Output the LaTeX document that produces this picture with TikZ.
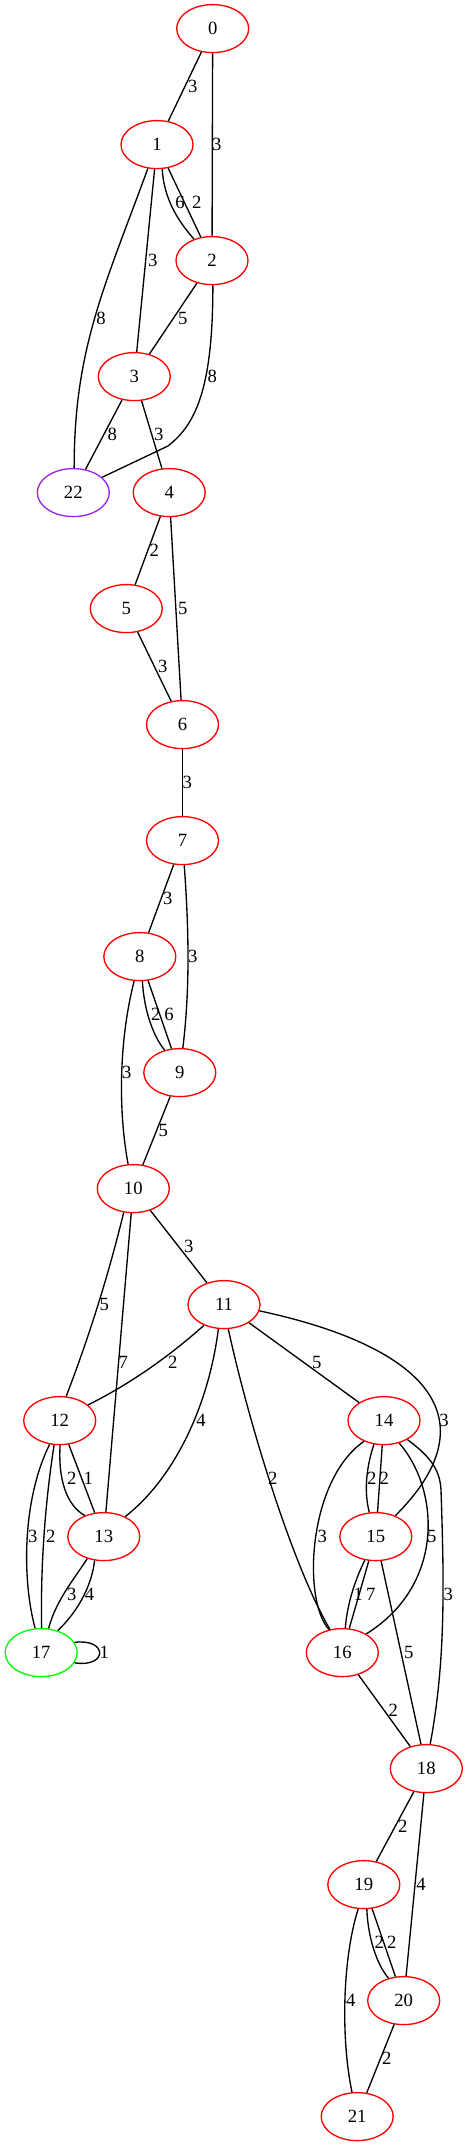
\documentclass[tikz,border=0pt]{standalone}
\usepackage{fontspec}
\setmainfont{Liberation Serif}
\usetikzlibrary{shapes.geometric}
\definecolor{gvred}{RGB}{255,0,0}
\definecolor{gvpurple}{RGB}{160,32,240}
\definecolor{gvgreen}{RGB}{0,255,0}
\begin{document}
\begin{tikzpicture}[x=0.75pt,y=-0.75pt,
  font=\fontsize{14}{16}\selectfont,
  gvnode/.style={ellipse,draw=gvred,line width=1pt,minimum width=54pt,minimum height=36pt,inner sep=0pt},
  gvedge/.style={line width=1pt,black},
  lbl/.style={inner sep=0pt}]
\useasboundingbox (0,0) rectangle (468,2147);
% nodes
\node[gvnode] (n0) at (212.7,28.6) {0};
\node[gvnode] (n1) at (157,144.6) {1};
\node[gvnode] (n2) at (212,260.6) {2};
\node[gvnode] (n3) at (134.3,376.6) {3};
\node[gvnode,draw=gvpurple] (n22) at (73.3,492.6) {22};
\node[gvnode] (n4) at (169.2,492.6) {4};
\node[gvnode] (n5) at (126.3,608.6) {5};
\node[gvnode] (n6) at (182.5,724.6) {6};
\node[gvnode] (n7) at (182.5,840.6) {7};
\node[gvnode] (n8) at (139.8,956.6) {8};
\node[gvnode] (n9) at (179.8,1072.6) {9};
\node[gvnode] (n10) at (133.3,1188.6) {10};
\node[gvnode] (n11) at (224,1304.6) {11};
\node[gvnode] (n12) at (59.7,1420.6) {12};
\node[gvnode] (n14) at (384,1420.6) {14};
\node[gvnode] (n13) at (103.8,1536.6) {13};
\node[gvnode] (n15) at (375.8,1536.6) {15};
\node[gvnode,draw=gvgreen] (n17) at (41.2,1652.6) {17};
\node[gvnode] (n16) at (342.3,1652.6) {16};
\node[gvnode] (n18) at (426.3,1768.6) {18};
\node[gvnode] (n19) at (363.8,1884.6) {19};
\node[gvnode] (n20) at (403.7,2000.6) {20};
\node[gvnode] (n21) at (357.2,2116.6) {21};
% edges
\draw[gvedge] (n0) -- (n1);
\draw[gvedge] (n0) -- (n2);
\draw[gvedge] (n1.-78) .. controls (164,200) and (179,222) .. (n2.130);
\draw[gvedge] (n1) -- (n2);
\draw[gvedge] (n1) -- (n3);
\draw[gvedge] (n1.-111) .. controls (105.6,284.4) and (74,347.8) .. (n22.88);
\draw[gvedge] (n2) -- (n3);
\draw[gvedge] (n2.-88) .. controls (213,390) and (195,425) .. (168,446) -- (n22.28);
\draw[gvedge] (n3) -- (n22);
\draw[gvedge] (n3) -- (n4);
\draw[gvedge] (n4) -- (n5);
\draw[gvedge] (n4) -- (n6);
\draw[gvedge] (n5) -- (n6);
\draw[gvedge] (n6) -- (n7);
\draw[gvedge] (n7) -- (n8);
\draw[gvedge] (n7.-86) .. controls (189,930) and (190,990) .. (n9.83);
\draw[gvedge] (n8.-84) .. controls (144,1010) and (153,1036) .. (n9.124);
\draw[gvedge] (n8) -- (n9);
\draw[gvedge] (n8.-103) .. controls (119,1040) and (118,1110) .. (n10.102);
\draw[gvedge] (n9) -- (n10);
\draw[gvedge] (n10) -- (n11);
\draw[gvedge] (n10.-112) .. controls (108.5,1275) and (89.1,1336.6) .. (n12.75);
\draw[gvedge] (n10) -- (n13);
\draw[gvedge] (n11.-134) .. controls (168.4,1357) and (130,1384) .. (n12.29);
\draw[gvedge] (n11.-103) .. controls (208,1410) and (172,1480) .. (n13.43);
\draw[gvedge] (n11) -- (n14);
\draw[gvedge] (n11.-10) .. controls (436,1348.8) and (487.6,1423.8) .. (n15.47);
\draw[gvedge] (n11.-80) .. controls (248,1420) and (292,1565) .. (n16.118);
\draw[gvedge] (n12.-89) .. controls (58,1478) and (66,1505) .. (n13.132);
\draw[gvedge] (n12) -- (n13);
\draw[gvedge] (n12.-113) .. controls (22,1500) and (22,1580) .. (n17.104);
\draw[gvedge] (n12.-103) .. controls (44.6,1506.7) and (40.5,1568.3) .. (n17.89);
\draw[gvedge] (n13.-127) .. controls (75,1578) and (56,1600) .. (n17.73);
\draw[gvedge] (n13.-111) .. controls (91,1590) and (75,1614) .. (n17.53);
\draw[gvedge] (n14.-113) .. controls (366,1468) and (364,1492) .. (n15.105);
\draw[gvedge] (n14) -- (n15);
\draw[gvedge] (n14.-134) .. controls (308,1480) and (302,1600) .. (n16.120);
\draw[gvedge] (n14.-56) .. controls (440,1490) and (445,1585) .. (n16.38);
\draw[gvedge] (n14.-39) .. controls (428,1455) and (440,1468) .. (441,1490) .. controls (444,1580) and (446,1660) .. (n18.81);
\draw[gvedge] (n15.-115) .. controls (354,1582) and (347,1606) .. (n16.83);
\draw[gvedge] (n15) -- (n16);
\draw[gvedge] (n15) -- (n18);
\draw[gvedge] (n17.17) .. controls (108,1638) and (108,1668) .. (n17.-17);
\draw[gvedge] (n16) -- (n18);
\draw[gvedge] (n18) -- (n19);
\draw[gvedge] (n18) -- (n20);
\draw[gvedge] (n19.-83) .. controls (368,1938) and (377,1965) .. (n20.124);
\draw[gvedge] (n19) -- (n20);
\draw[gvedge] (n19.-103) .. controls (342,1960) and (341,2040) .. (n21.102);
\draw[gvedge] (n20) -- (n21);
% labels
\node[lbl] (l0-1) at (192.7,86.6) {3};
\node[lbl] (l0-2) at (216.7,144.6) {3};
\node[lbl] (l1-2a) at (180,202.6) {6};
\node[lbl] (l1-2b) at (196.7,202.6) {2};
\node[lbl] (l1-3) at (152.7,260.6) {3};
\node[lbl] (l1-22) at (101,318.6) {8};
\node[lbl] (l2-3) at (182.7,318.6) {5};
\node[lbl] (l2-22) at (212.3,376.6) {8};
\node[lbl] (l3-22) at (112.3,434.6) {8};
\node[lbl] (l3-4) at (158.7,434.6) {3};
\node[lbl] (l4-5) at (154.3,550.6) {2};
\node[lbl] (l4-6) at (182.7,608.6) {5};
\node[lbl] (l5-6) at (162.7,666.6) {3};
\node[lbl] (l6-7) at (187.3,782.6) {3};
\node[lbl] (l7-8) at (167.7,898.6) {3};
\node[lbl] (l7-9) at (192.7,956.6) {3};
\node[lbl] (l8-9a) at (155.7,1014.6) {2};
\node[lbl] (l8-9b) at (169,1014.6) {6};
\node[lbl] (l8-10) at (126.7,1072.6) {3};
\node[lbl] (l9-10) at (163.3,1130.6) {5};
\node[lbl] (l10-11) at (188.7,1246.6) {3};
\node[lbl] (l10-12) at (104.3,1304.6) {5};
\node[lbl] (l10-13) at (123.3,1362.6) {7};
\node[lbl] (l11-12) at (172.7,1362.6) {2};
\node[lbl] (l11-14) at (316.7,1362.6) {5};
\node[lbl] (l11-13) at (201,1420.6) {4};
\node[lbl] (l11-15) at (444,1420.6) {3};
\node[lbl] (l11-16) at (272.7,1478.6) {2};
\node[lbl] (l12-13a) at (71.7,1478.6) {2};
\node[lbl] (l12-13b) at (88.3,1478.6) {1};
\node[lbl] (l14-15a) at (371.7,1478.6) {2};
\node[lbl] (l14-15b) at (384.3,1478.6) {2};
\node[lbl] (l12-17a) at (32.7,1536.6) {3};
\node[lbl] (l12-17b) at (50.7,1536.6) {2};
\node[lbl] (l14-16a) at (322.3,1536.6) {3};
\node[lbl] (l14-16b) at (431.7,1536.6) {5};
\node[lbl] (l13-17a) at (71.7,1594.6) {3};
\node[lbl] (l13-17b) at (89.5,1594.6) {4};
\node[lbl] (l15-16a) at (358.3,1594.6) {1};
\node[lbl] (l15-16b) at (370.7,1594.6) {7};
\node[lbl] (l14-18) at (448.3,1594.6) {3};
\node[lbl] (l17-17) at (104.3,1652.6) {1};
\node[lbl] (l15-18) at (408.7,1652.6) {5};
\node[lbl] (l16-18) at (393.3,1710.6) {2};
\node[lbl] (l18-19) at (402.7,1826.6) {2};
\node[lbl] (l18-20) at (421,1884.6) {4};
\node[lbl] (l19-20a) at (379.3,1942.6) {2};
\node[lbl] (l19-20b) at (391.7,1942.6) {2};
\node[lbl] (l19-21) at (350.7,2000.6) {4};
\node[lbl] (l20-21) at (386.7,2058.6) {2};
\end{tikzpicture}
\end{document}
